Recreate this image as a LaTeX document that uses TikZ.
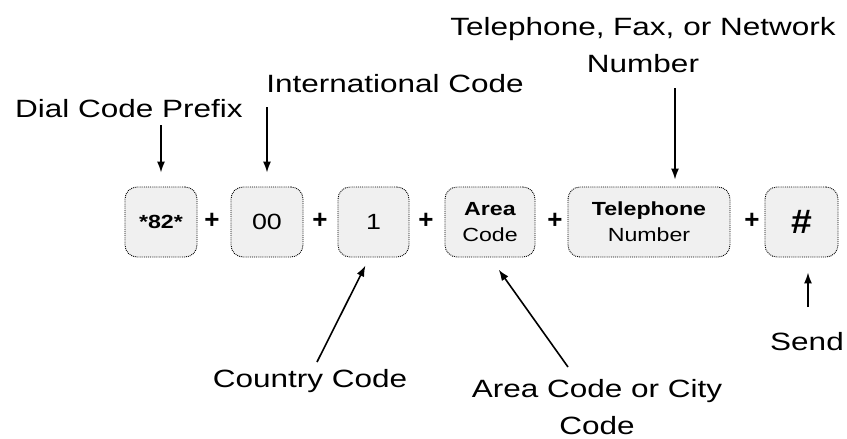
\documentclass[tikz,border=0pt]{standalone}
\usepackage{fontspec}
\setmainfont{Liberation Sans}
\usetikzlibrary{arrows.meta}
\newcommand{\wide}[2][1.26]{\scalebox{#1}[1]{#2}}

\begin{document}
\begin{tikzpicture}[x=1pt,y=1pt,
    %
    key/.style={rectangle, rounded corners=12pt, draw, densely dotted,
    line width=0.9pt, fill=gray!12, minimum height=70pt, inner sep=0pt,
    align=center, font=\fontsize{19}{26}\selectfont},
    lbl/.style={inner sep=0pt, align=center, font=\fontsize{25}{37}\selectfont},
    arr/.style={-{Latex[length=11pt,width=8pt]}, line width=1.6pt}]
    \tikzstyle{plus}=[inner sep=0pt, font=\fontsize{26}{26}\selectfont\bfseries]
    \useasboundingbox (0,0) rectangle (847,-439);

    % the keys
    \node[key, minimum width=72pt] (prefix) at (161,-222) {\wide[1.22]{\bfseries *82*}};
    \node[key, minimum width=72pt, font=\fontsize{22}{26}\selectfont] (intl) at (267,-222) {\wide[1.22]{00}};
    \node[key, minimum width=71pt, font=\fontsize{22}{26}\selectfont] (country) at (373.5,-222) {\wide[1.22]{1}};
    \node[key, minimum width=90pt] (area) at (490,-222) {\wide[1.22]{\bfseries Area}\\\wide[1.22]{Code}};
    \node[key, minimum width=162pt] (phone) at (649,-222) {\wide[1.22]{\bfseries Telephone}\\\wide[1.22]{Number}};
    \node[key, minimum width=73pt, font=\fontsize{34}{34}\selectfont\bfseries] (hash) at (801.5,-222) {\wide[1.1]{\#}};

    \node[plus] (p1) at (212,-221) {+};
    \node[plus] (p2) at (320,-221) {+};
    \node[plus] (p3) at (426,-221) {+};
    \node[plus] (p4) at (555,-221) {+};
    \node[plus] (p5) at (752,-221) {+};

    % the labels
    \node[lbl, anchor=base] (dial) at (129,-117) {\wide{Dial Code Prefix}};
    \node[lbl, anchor=base] (intlcode) at (395,-92) {\wide{International Code}};
    \node[lbl, anchor=north] (telnum) at (643,-17) {\wide{Telephone, Fax, or Network}\\\wide{Number}};
    \node[lbl, anchor=base] (ctrycode) at (310,-387) {\wide{Country Code}};
    \node[lbl, anchor=north] (citycode) at (597,-379) {\wide{Area Code or City}\\\wide{Code}};
    \node[lbl, anchor=base] (sendlbl) at (807,-350) {\wide{Send}};

    \coordinate (dialtail) at (161,-125);
    \coordinate (intltail) at (267,-107);
    \coordinate (teltail) at (675,-88);
    \coordinate (ctrytail) at (317,-362);
    \coordinate (citytail) at (568,-367);
    \coordinate (sendtail) at (808,-307);

    \draw[arr, shorten >=14pt] (dialtail) -- (dialtail |- prefix.north);
    \draw[arr, shorten >=14pt] (intltail) -- (intltail |- intl.north);
    \draw[arr, shorten >=7pt] (teltail) -- (teltail |- phone.north);
    \draw[arr, shorten >=9pt] (ctrytail) -- ([xshift=-4pt]country.south);
    \draw[arr, shorten >=15pt] (citytail) -- (area.south);
    \draw[arr, shorten >=15pt] (sendtail) -- (sendtail |- hash.south);
\end{tikzpicture}
\end{document}
